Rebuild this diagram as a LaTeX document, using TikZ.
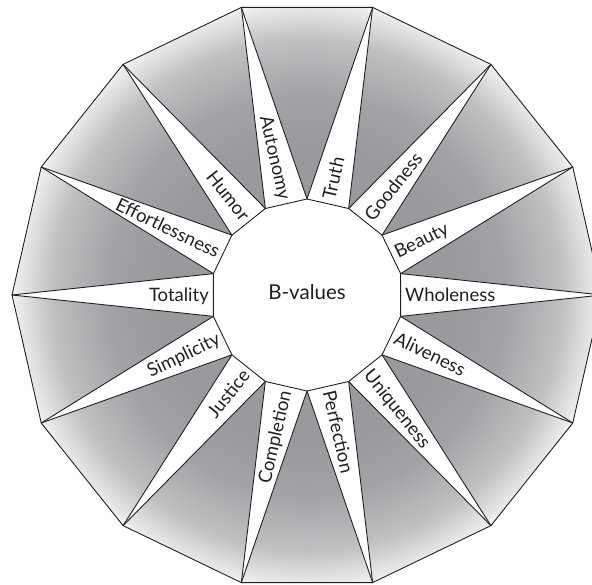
\documentclass[tikz,border=0pt]{standalone}
\usepackage{fontspec}
\setmainfont{Lato}
\usetikzlibrary{calc}
\definecolor{bvgray}{RGB}{153,154,158}
\definecolor{bvgtwo}{RGB}{163,163,167}
\definecolor{bvgthree}{RGB}{192,192,195}
\definecolor{bvgfour}{RGB}{234,234,235}
\definecolor{ink}{RGB}{35,31,32}
\pgfdeclareradialshading{bvshade}{\pgfpoint{0bp}{0bp}}{color(0bp)=(bvgray); color(12.7bp)=(bvgray); color(17bp)=(bvgtwo); color(21.6bp)=(bvgthree); color(24.5bp)=(bvgfour); color(25.4bp)=(white); color(50bp)=(white)}
\begin{document}
\begin{tikzpicture}[x=1pt,y=1pt,
  edge/.style={draw=ink, line width=0.9pt, line join=round, line cap=round},
  lab/.style={font=\fontsize{18.5}{18.5}\selectfont, text=ink, inner sep=0pt, text height=13pt, text depth=0pt}]
\clip (-307,-289) rectangle (285,295);
\fill[white] (-307,-289) rectangle (285,295);
\def\Ro{295}
\def\Ri{96}
\foreach \k in {0,...,13} {
  \coordinate (o\k) at ({77.142857-\k*25.714286}:\Ro);
  \coordinate (i\k) at ({90-\k*25.714286}:\Ri);
}
\begin{scope}
  \clip (o0) \foreach \k in {1,...,13}{ -- (o\k) } -- cycle;
  \shade[shading=bvshade] (0,0) circle (\Ro);
\end{scope}
\foreach \k [evaluate=\k as \n using {int(mod(\k+1,14))}] in {0,...,13} {
  \fill[white] (i\k) -- (o\k) -- (i\n) -- cycle;
  \draw[edge] (i\k) -- (o\k);
  \draw[edge] (i\n) -- (o\k);
}
\draw[edge] (o0) \foreach \k in {1,...,13}{ -- (o\k) } -- cycle;
\filldraw[fill=white, edge] (i0) \foreach \k in {1,...,13}{ -- (i\k) } -- cycle;
\foreach \t [count=\c from 0] in {Truth,Goodness,Beauty,Wholeness,Aliveness,Uniqueness,Perfection,Completion,Justice,Simplicity,Totality,Effortlessness,Humor,Autonomy} {
  \pgfmathsetmacro\ang{77.142857-\c*25.714286}
  \ifnum\c<7
    \node[lab, anchor=west, rotate=\ang] (l\c) at (\ang:98) {\t};
  \else
    \node[lab, anchor=east, rotate=\ang+180] (l\c) at (\ang:98) {\t};
  \fi
}
\node[lab, font=\fontsize{20.5}{20.5}\selectfont, text height=14.5pt] (bv) at (0,3) {B-values};
\end{tikzpicture}
\end{document}
